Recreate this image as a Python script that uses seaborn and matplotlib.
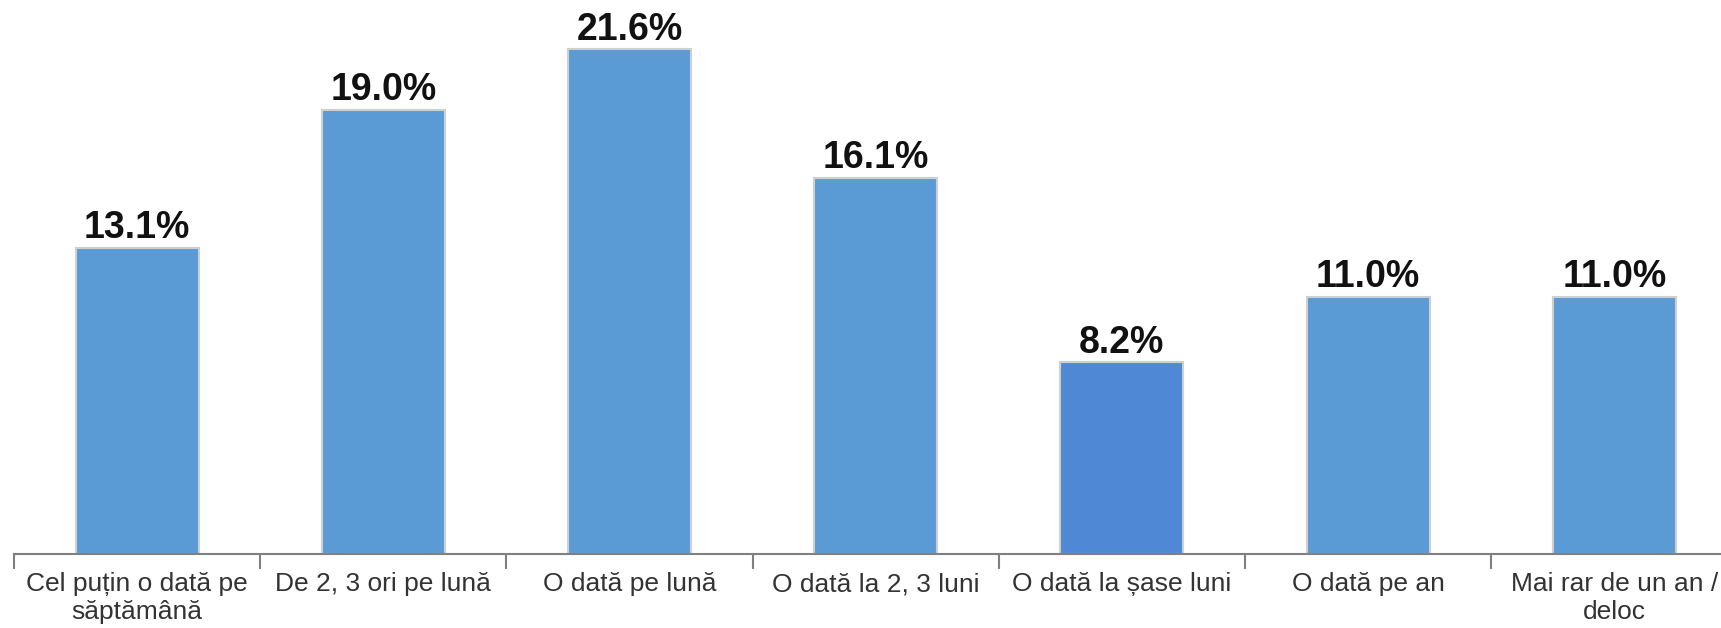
import numpy as np
import pandas as pd
import matplotlib
matplotlib.use("Agg")
import matplotlib.pyplot as plt
import seaborn as sns

# chart data
categories = ["Cel puțin o dată pe\nsăptămână", "De 2, 3 ori pe lună", "O dată pe lună",
              "O dată la 2, 3 luni", "O dată la șase luni", "O dată pe an",
              "Mai rar de un an /\ndeloc"]
values = [13.1, 19.0, 21.6, 16.1, 8.2, 11.0, 11.0]
bar_colors = ["#5B9BD5", "#5B9BD5", "#5B9BD5", "#5B9BD5", "#4F89D5", "#5B9BD5", "#5B9BD5"]

df = pd.DataFrame({"cat": categories, "val": values})

sns.set_style("white")
plt.rcParams["font.family"] = ["Liberation Sans", "DejaVu Sans"]

fig = plt.figure(figsize=(17.21, 6.28), dpi=100)
ax = fig.add_axes([14 / 1721, 1 - 554 / 628, 7 * 246.2 / 1721, 554 / 628])

sns.barplot(data=df, x="cat", y="val", hue="cat", palette=bar_colors, legend=False,
            width=0.5, edgecolor="#CFCFCF", linewidth=1.5, saturation=1, ax=ax)

for cont in ax.containers:
    ax.bar_label(cont, fmt="%.1f%%", padding=1, fontsize=27, fontweight="bold", color="#111111")

ax.set_xlim(-0.5, 6.5)
ax.set_ylim(0, 23.7)
ax.set_xlabel("")
ax.set_ylabel("")
ax.set_yticks([])
for s in ["top", "right", "left"]:
    ax.spines[s].set_visible(False)
ax.spines["bottom"].set_color("#808080")
ax.spines["bottom"].set_linewidth(1.5)

ax.set_xticks(range(len(categories)))
ax.set_xticklabels(categories, fontsize=19, color="#333333", linespacing=1.2)
ax.tick_params(axis="x", which="major", bottom=True, length=0, pad=13)
ax.set_xticks(np.arange(-0.5, 7.0, 1.0), minor=True)
ax.tick_params(axis="x", which="minor", bottom=True, length=11, width=1.5, color="#808080", direction="out")

fig.savefig("out.png", dpi=100)
